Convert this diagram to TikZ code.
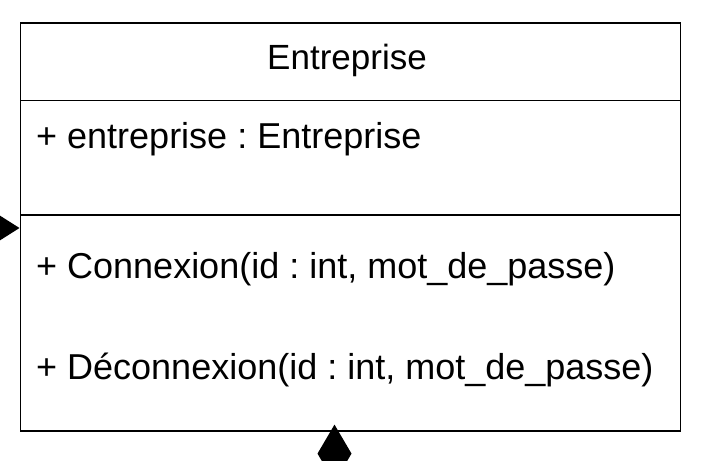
\documentclass[tikz,border=0pt]{standalone}
\usepackage{fontspec}
\setmainfont{Liberation Sans}
\usetikzlibrary{arrows.meta}
\frenchspacing
\begin{document}
\begin{tikzpicture}[x=1pt, y=-1pt,
  section/.style={draw, line width=1.6pt, minimum width=660pt, anchor=north west, inner sep=0pt},
  member/.style={anchor=base west, inner sep=0pt, font=\fontsize{36}{43}\selectfont},
  title/.style={anchor=base, inner sep=0pt, font=\fontsize{35}{42}\selectfont},
  link/.style={line width=1.6pt}]
\useasboundingbox (0,0) rectangle (714,460);
\clip (0,0) rectangle (714,460);

% class box: name, attributes, operations
\node[section, minimum height=77pt]  (hdr)   at (19.5,22.5)  {};
\node[section, minimum height=114.5pt] (attrs) at (19.5,99.5) {};
\node[section, minimum height=216pt] (ops)   at (19.5,214)   {};

\node[title]  (name) at (347,69)  {Entreprise};
\node[member] (a1)   at (36,148)    {+ entreprise : Entreprise};
\node[member] (m1)   at (36,278)    {+ Connexion(id : int, mot\_de\_passe)};
\node[member] (m2)   at (36,379)    {+ Déconnexion(id : int, mot\_de\_passe)};

% incoming association on the left side
\coordinate (inL) at (-60,228);
\draw[link, -{Triangle[length=24pt, width=30pt]}] (inL) -- (inL -| ops.west);

% composition leaving the bottom edge
\coordinate (outB) at (334.5,540);
\draw[link, {Diamond[length=58pt, width=34pt]}-, shorten <=-7pt] (ops.south -| outB) -- (outB);
\end{tikzpicture}
\end{document}
